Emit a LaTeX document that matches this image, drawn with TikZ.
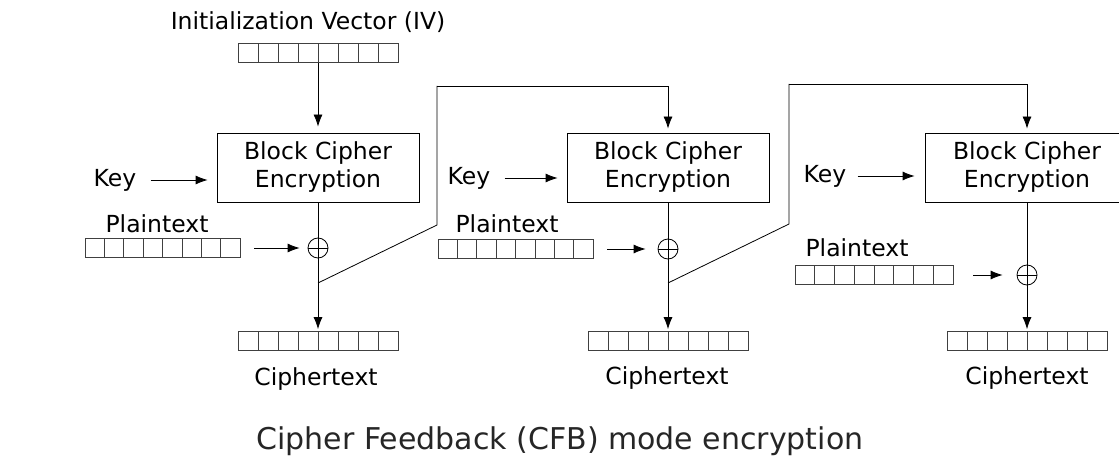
\documentclass[tikz,border=0pt]{standalone}
\usepackage{fontspec}
\setmainfont{DejaVu Sans}
\usetikzlibrary{arrows.meta,calc}

\tikzset{
  lbl/.style={inner sep=0pt, font=\fontsize{23.5}{27}\selectfont},
  cipherbox/.style={draw, line width=0.8pt, minimum width=202pt, minimum height=69pt,
    align=center, inner sep=0pt, font=\fontsize{23.5}{28}\selectfont},
  register/.style={draw, line width=0.7pt, black!75, minimum width=#1, minimum height=19pt,
    inner sep=0pt,
    path picture={
      \foreach \k in {1,...,7}
        \draw[line width=0.7pt, black!75]
          ($(path picture bounding box.south west)!\k/8!(path picture bounding box.south east)$) --
          ($(path picture bounding box.north west)!\k/8!(path picture bounding box.north east)$);
    }},
  register/.default=160pt,
  xorop/.style={draw, circle, line width=0.8pt, minimum size=20pt, inner sep=0pt,
    path picture={
      \draw[line width=0.8pt] (path picture bounding box.north) -- (path picture bounding box.south)
        (path picture bounding box.west) -- (path picture bounding box.east);
    }},
  wire/.style={line width=0.8pt},
  arr/.style={wire, -{Latex[length=12pt,width=9pt]}},
}

\begin{document}
\begin{tikzpicture}[x=1pt,y=-1pt]
\useasboundingbox (0,0) rectangle (1119,468);

% ---- stage 1 ----
\node[lbl] (ivlabel) at (308,22) {Initialization Vector (IV)};
\node[register] (iv) at (318,53) {};
\node[cipherbox] (enc1) at (318,167.5) {Block Cipher\\Encryption};
\node[lbl] (key1) at (115,180) {Key};
\node[lbl] (pl1) at (157,224) {Plaintext};
\node[register=155pt] (pt1) at (162.5,248) {};
\node[xorop] (xor1) at (318,248) {};
\node[register] (ct1) at (318,341) {};
\node[lbl] (cl1) at (316,379) {Ciphertext};

\draw[arr, shorten >=6pt] (iv.south) -- (enc1.north);
\draw[arr, shorten <=14pt, shorten >=9pt] (key1.east) -- (key1.east -| enc1.west);
\draw[wire] (enc1.south) -- (xor1.north);
\draw[arr, shorten <=14pt, shorten >=8pt] (pt1.east) -- (xor1.west);
\draw[arr, shorten >=2pt] (xor1.south) -- (ct1.north);

% feedback from stage 1 into stage 2
\coordinate (fb1) at (318,283);
\coordinate (fb1b) at (437,225);
\coordinate (fb1c) at (437,86);

% ---- stage 2 ----
\node[cipherbox] (enc2) at (668,167.5) {Block Cipher\\Encryption};
\node[lbl] (key2) at (469,178) {Key};
\node[lbl] (pl2) at (507,224) {Plaintext};
\node[register=155pt] (pt2) at (515.5,249) {};
\node[xorop] (xor2) at (668,249) {};
\node[register] (ct2) at (668,341) {};
\node[lbl] (cl2) at (667,378) {Ciphertext};

\draw[wire] (fb1) -- (fb1b) -- (fb1c);
\draw[arr, shorten >=4pt] (fb1c) -| (enc2.north);
\draw[arr, shorten <=14pt, shorten >=9pt] (key2.east) -- (key2.east -| enc2.west);
\draw[wire] (enc2.south) -- (xor2.north);
\draw[arr, shorten <=14pt, shorten >=12pt] (pt2.east) -- (xor2.west);
\draw[arr, shorten >=2pt] (xor2.south) -- (ct2.north);

% feedback from stage 2 into stage 3
\coordinate (fb2) at (668,283);
\coordinate (fb2b) at (789,224);
\coordinate (fb2c) at (789,84);

% ---- stage 3 ----
\node[cipherbox, minimum width=204pt] (enc3) at (1027,167.5) {Block Cipher\\Encryption};
\node[lbl] (key3) at (825,176) {Key};
\node[lbl] (pl3) at (857,248) {Plaintext};
\node[register=158pt] (pt3) at (874,275) {};
\node[xorop] (xor3) at (1027,275) {};
\node[register] (ct3) at (1027,341) {};
\node[lbl] (cl3) at (1027,378) {Ciphertext};

\draw[wire] (fb2) -- (fb2b) -- (fb2c);
\draw[arr, shorten >=4pt] (fb2c) -| (enc3.north);
\draw[arr, shorten <=11pt, shorten >=10pt] (key3.east) -- (key3.east -| enc3.west);
\draw[wire] (enc3.south) -- (xor3.north);
\draw[arr, shorten <=20pt, shorten >=14pt] (pt3.east) -- (xor3.west);
\draw[arr, shorten >=2pt] (xor3.south) -- (ct3.north);

% ---- caption ----
\node[inner sep=0pt, text=black!85, font=\fontsize{30}{34}\selectfont] (title) at (560,441)
  {Cipher Feedback (CFB) mode encryption};
\end{tikzpicture}
\end{document}
